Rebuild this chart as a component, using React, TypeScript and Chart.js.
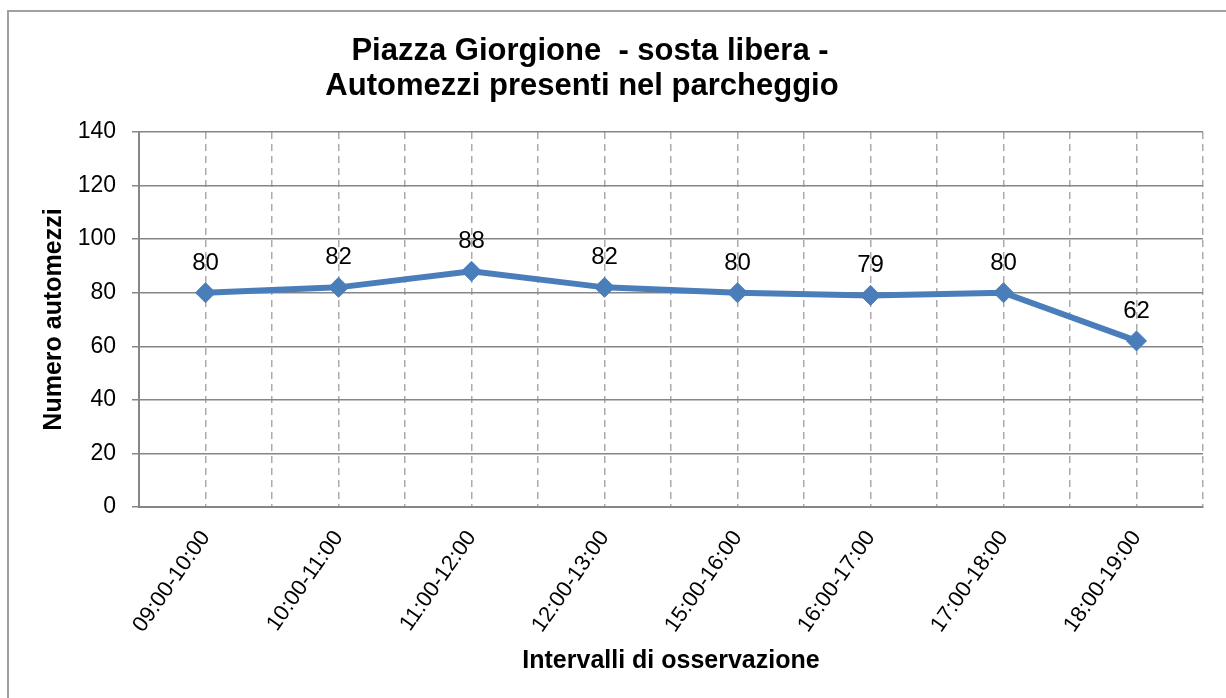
import React, { useEffect, useRef } from "react";
import { Chart, registerables } from "chart.js";

Chart.register(...registerables);

const categories = [
  "09:00-10:00",
  "10:00-11:00",
  "11:00-12:00",
  "12:00-13:00",
  "15:00-16:00",
  "16:00-17:00",
  "17:00-18:00",
  "18:00-19:00",
];
const vehicles = [80, 82, 88, 82, 80, 79, 80, 62];
const yMin = 0;
const yMax = 140;
const yStep = 20;
const titleLines = ["Piazza Giorgione  - sosta libera -", "Automezzi presenti nel parcheggio"];
const xTitle = "Intervalli di osservazione";
const yTitle = "Numero automezzi";

const FONT = "'Liberation Sans', Arial, Helvetica, sans-serif";
const LINE_COLOR = "#4A7EBB";
const GRID_COLOR = "#868686";
const DASH_COLOR = "#ababab";

const W = 1226;
const H = 698;

const titlePlugin = {
  id: "twoLineTitle",
  afterDraw(chart: any) {
    const ctx = chart.ctx;
    ctx.save();
    ctx.fillStyle = "#000";
    ctx.font = `bold 31px ${FONT}`;
    ctx.textAlign = "center";
    ctx.textBaseline = "middle";
    ctx.fillText(titleLines[0], 590, 51);
    ctx.fillText(titleLines[1], 582, 86);
    ctx.restore();
  },
};

const dataLabelPlugin = {
  id: "pointValues",
  afterDatasetsDraw(chart: any) {
    const ctx = chart.ctx;
    const meta = chart.getDatasetMeta(0);
    const values = chart.data.datasets[0].data as number[];
    ctx.save();
    ctx.fillStyle = "#000";
    ctx.font = `24px ${FONT}`;
    ctx.textAlign = "center";
    ctx.textBaseline = "alphabetic";
    meta.data.forEach((pt: any, i: number) => {
      ctx.fillText(String(values[i]), pt.x, pt.y - 23);
    });
    ctx.restore();
  },
};

export default function App() {
  const canvasRef = useRef<HTMLCanvasElement | null>(null);

  useEffect(() => {
    const canvas = canvasRef.current;
    if (!canvas) return;
    const chart = new Chart(canvas, {
      type: "line",
      data: {
        labels: categories,
        datasets: [
          {
            label: yTitle,
            data: vehicles,
            borderColor: LINE_COLOR,
            backgroundColor: LINE_COLOR,
            borderWidth: 6,
            pointStyle: "rectRot",
            pointRadius: 10,
            pointHoverRadius: 10,
            pointBackgroundColor: LINE_COLOR,
            pointBorderColor: LINE_COLOR,
            pointBorderWidth: 1,
            tension: 0,
            fill: false,
          },
        ],
      },
      options: {
        responsive: false,
        animation: false,
        devicePixelRatio: 1,
        layout: { padding: { left: 30, right: 23, top: 132, bottom: 10 } },
        plugins: {
          legend: { display: false },
          title: { display: false },
          tooltip: { enabled: false },
        },
        scales: {
          x: {
            type: "category",
            position: "bottom",
            offset: true,
            grid: {
              offset: true,
              color: DASH_COLOR,
              lineWidth: 1.5,
              drawTicks: false,
            },
            border: { display: true, color: GRID_COLOR, width: 2, dash: [7, 5] },
            ticks: {
              autoSkip: false,
              minRotation: 55,
              maxRotation: 55,
              padding: 19,
              color: "#000",
              font: { family: FONT, size: 22 },
            },
            title: {
              display: true,
              text: xTitle,
              color: "#000",
              font: { family: FONT, size: 25, weight: "bold" },
              padding: { top: 0, bottom: 12 },
            },
            afterFit(scale: any) {
              scale.height = H - 10 - 507;
            },
          },
          x2: {
            type: "category",
            position: "bottom",
            offset: true,
            grid: {
              offset: false,
              color: DASH_COLOR,
              lineWidth: 1.5,
              drawTicks: false,
            },
            border: { display: false, dash: [7, 5] },
            ticks: { display: false },
            title: { display: false },
            afterFit(scale: any) {
              scale.height = 0;
            },
          },
          y: {
            type: "linear",
            min: yMin,
            max: yMax,
            ticks: {
              stepSize: yStep,
              padding: 16,
              color: "#000",
              font: { family: FONT, size: 23 },
            },
            grid: {
              color: GRID_COLOR,
              lineWidth: 1.5,
              tickLength: 7,
              drawTicks: true,
            },
            border: { display: true, color: GRID_COLOR, width: 2 },
            title: {
              display: true,
              text: yTitle,
              color: "#000",
              font: { family: FONT, size: 25, weight: "bold" },
              padding: { top: 9, bottom: 0 },
            },
            afterFit(scale: any) {
              scale.width = 139 - 30;
            },
          },
        },
      },
      plugins: [titlePlugin, dataLabelPlugin],
    });
    return () => chart.destroy();
  }, []);

  return (
    <div
      style={{
        position: "fixed",
        left: 0,
        top: 0,
        width: W,
        height: H,
        overflow: "hidden",
        background: "#fff",
      }}
    >
      <div
        style={{
          position: "absolute",
          left: 7,
          top: 10,
          width: W + 20,
          height: H + 20,
          border: "2px solid #a0a0a0",
          boxSizing: "border-box",
        }}
      />
      <canvas
        ref={canvasRef}
        width={W}
        height={H}
        style={{ position: "absolute", left: 0, top: 0, width: W, height: H }}
      />
    </div>
  );
}
